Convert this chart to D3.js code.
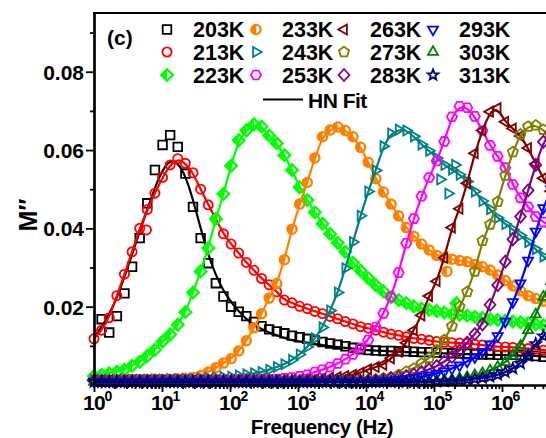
<!DOCTYPE html>
<html>
<head>
<meta charset="utf-8">
<script src="https://cdn.jsdelivr.net/npm/d3@7"></script>
<style>
  body { margin: 0; background: #fff; }
  svg { display: block; }
  text { font-family: "Liberation Sans", Arial, sans-serif; font-weight: bold; fill: #000; }
</style>
</head>
<body>
<svg id="chart" width="546" height="438"></svg>
<script>
// Measurement frequencies (Hz), shared by every temperature
const freqHz = [
  1, 1.294, 1.675, 2.168, 2.805, 3.631, 4.699, 6.081, 7.870, 10.19,
  13.18, 17.06, 22.08, 28.58, 36.98, 47.86, 61.94, 80.17, 103.8, 134.3,
  173.8, 224.9, 291.1, 376.7, 487.5, 631.0, 816.6, 1057, 1368, 1770,
  2291, 2965, 3837, 4966, 6427, 8318, 10770, 13930, 18030, 23330,
  30200, 39080, 50580, 65460, 84720, 109600, 141900, 183700, 237700, 307600,
  398100, 515200, 666800, 863000, 1117000, 1445000, 1871000, 2421000, 3133000, 4055000,
  5248000
];

const temps = ["203K", "213K", "223K", "233K", "243K", "253K",
               "263K", "273K", "283K", "293K", "303K", "313K"];

// M'' measured at each frequency
const m203K = [
  null, 0.0168, 0.0134, 0.0176, 0.0234, 0.0302, 0.0375, 0.0464, 0.0549, 0.0613,
  0.0638, 0.0608, 0.0540, 0.0455, 0.0375, 0.0311, 0.0260, 0.0226, 0.0200, 0.0187,
  0.0176, 0.0161, 0.0150, 0.0142, 0.0137, 0.0132, 0.0126, 0.0122, 0.0118, 0.0114,
  0.0110, 0.0106, 0.0103, 0.0099, 0.0095, 0.0091, 0.0089, 0.0088, 0.0087, 0.0087,
  0.0086, 0.0086, 0.0085, 0.0084, 0.0084, 0.0083, 0.0082, 0.0081, 0.0080, 0.0080,
  0.0079, 0.0078, 0.0078, 0.0077, 0.0077, 0.0077, 0.0076, 0.0075, 0.0074, 0.0072,
  0.0071
];
const m213K = [
  0.0118, 0.0140, 0.0172, 0.0228, 0.0283, 0.0340, 0.0400, 0.0448, 0.0490, 0.0530,
  0.0562, 0.0578, 0.0566, 0.0542, 0.0500, 0.0460, 0.0424, 0.0386, 0.0360, 0.0337,
  0.0313, 0.0293, 0.0272, 0.0256, 0.0238, 0.0217, 0.0210, 0.0201, 0.0195, 0.0188,
  0.0182, 0.0175, 0.0169, 0.0162, 0.0156, 0.0149, 0.0145, 0.0140, 0.0135, 0.0130,
  0.0127, 0.0123, 0.0119, 0.0117, 0.0114, 0.0111, 0.0109, 0.0108, 0.0107, 0.0106,
  0.0104, 0.0102, 0.0100, 0.0098, 0.0097, 0.0096, 0.0095, 0.0093, 0.0091, 0.0089,
  0.0088
];
const m223K = [
  0.0023, 0.0026, 0.0030, 0.0034, 0.0039, 0.0049, 0.0059, 0.0074, 0.0090, 0.0111,
  0.0129, 0.0154, 0.0186, 0.0236, 0.0290, 0.0350, 0.0424, 0.0488, 0.0560, 0.0625,
  0.0650, 0.0666, 0.0660, 0.0637, 0.0617, 0.0587, 0.0549, 0.0505, 0.0472, 0.0441,
  0.0412, 0.0386, 0.0363, 0.0340, 0.0312, 0.0292, 0.0273, 0.0255, 0.0239, 0.0224,
  0.0217, 0.0209, 0.0201, 0.0195, 0.0192, 0.0189, 0.0185, 0.0181, 0.0179, 0.0177,
  0.0174, 0.0171, 0.0168, 0.0166, 0.0164, 0.0162, 0.0160, 0.0158, 0.0155, 0.0153,
  0.0151
];
const m233K = [
  0.0013, 0.0013, 0.0013, 0.0013, 0.0014, 0.0014, 0.0014, 0.0014, 0.0015, 0.0015,
  0.0015, 0.0016, 0.0017, 0.0019, 0.0024, 0.0033, 0.0044, 0.0056, 0.0067, 0.0087,
  0.0113, 0.0146, 0.0182, 0.0222, 0.0259, 0.0320, 0.0398, 0.0462, 0.0517, 0.0580,
  0.0634, 0.0651, 0.0659, 0.0650, 0.0634, 0.0607, 0.0569, 0.0527, 0.0493, 0.0462,
  0.0432, 0.0402, 0.0380, 0.0360, 0.0345, 0.0331, 0.0325, 0.0321, 0.0318, 0.0315,
  0.0308, 0.0302, 0.0294, 0.0281, 0.0267, 0.0253, 0.0240, 0.0228, 0.0221, 0.0214,
  0.0209
];
const m243K = [
  0.0012, 0.0012, 0.0012, 0.0012, 0.0013, 0.0013, 0.0013, 0.0014, 0.0014, 0.0014,
  0.0015, 0.0015, 0.0016, 0.0016, 0.0017, 0.0018, 0.0019, 0.0020, 0.0021, 0.0024,
  0.0027, 0.0030, 0.0033, 0.0039, 0.0046, 0.0053, 0.0064, 0.0078, 0.0097, 0.0119,
  0.0147, 0.0190, 0.0236, 0.0298, 0.0365, 0.0432, 0.0494, 0.0548, 0.0610, 0.0642,
  0.0652, 0.0650, 0.0635, 0.0614, 0.0598, 0.0580, 0.0562, 0.0550, 0.0537, 0.0520,
  0.0494, 0.0470, 0.0449, 0.0427, 0.0411, 0.0397, 0.0382, 0.0365, 0.0347, 0.0328,
  0.0312
];
const m253K = [
  0.0011, 0.0011, 0.0011, 0.0011, 0.0011, 0.0011, 0.0011, 0.0011, 0.0011, 0.0011,
  0.0011, 0.0011, 0.0011, 0.0012, 0.0012, 0.0012, 0.0012, 0.0012, 0.0012, 0.0013,
  0.0013, 0.0013, 0.0014, 0.0014, 0.0015, 0.0017, 0.0019, 0.0022, 0.0026, 0.0033,
  0.0039, 0.0046, 0.0055, 0.0066, 0.0078, 0.0095, 0.0115, 0.0148, 0.0183, 0.0225,
  0.0287, 0.0362, 0.0425, 0.0482, 0.0530, 0.0572, 0.0622, 0.0685, 0.0712, 0.0708,
  0.0686, 0.0650, 0.0612, 0.0584, 0.0555, 0.0512, 0.0478, 0.0455, 0.0430, 0.0416,
  0.0405
];
const m263K = [
  0.0011, 0.0011, 0.0011, 0.0011, 0.0011, 0.0011, 0.0011, 0.0011, 0.0011, 0.0011,
  0.0011, 0.0011, 0.0011, 0.0011, 0.0011, 0.0011, 0.0011, 0.0011, 0.0011, 0.0011,
  0.0011, 0.0011, 0.0011, 0.0012, 0.0012, 0.0012, 0.0012, 0.0012, 0.0013, 0.0014,
  0.0016, 0.0018, 0.0020, 0.0023, 0.0026, 0.0031, 0.0040, 0.0046, 0.0052, 0.0068,
  0.0085, 0.0108, 0.0140, 0.0178, 0.0227, 0.0265, 0.0325, 0.0402, 0.0450, 0.0515,
  0.0592, 0.0650, 0.0698, 0.0707, 0.0672, 0.0655, 0.0636, 0.0605, 0.0565, 0.0528,
  0.0495
];
const m273K = [
  0.0010, 0.0010, 0.0010, 0.0010, 0.0010, 0.0010, 0.0010, 0.0010, 0.0010, 0.0010,
  0.0010, 0.0010, 0.0010, 0.0010, 0.0010, 0.0010, 0.0010, 0.0010, 0.0010, 0.0010,
  0.0010, 0.0010, 0.0010, 0.0010, 0.0010, 0.0010, 0.0010, 0.0010, 0.0010, 0.0010,
  0.0010, 0.0010, 0.0010, 0.0011, 0.0011, 0.0011, 0.0012, 0.0014, 0.0017, 0.0020,
  0.0026, 0.0034, 0.0042, 0.0055, 0.0069, 0.0089, 0.0115, 0.0150, 0.0200, 0.0238,
  0.0290, 0.0368, 0.0410, 0.0468, 0.0535, 0.0595, 0.0640, 0.0660, 0.0663, 0.0652,
  0.0632
];
const m283K = [
  0.0010, 0.0010, 0.0010, 0.0010, 0.0010, 0.0010, 0.0010, 0.0010, 0.0010, 0.0010,
  0.0010, 0.0010, 0.0010, 0.0010, 0.0010, 0.0010, 0.0010, 0.0010, 0.0010, 0.0010,
  0.0010, 0.0010, 0.0010, 0.0010, 0.0010, 0.0010, 0.0010, 0.0010, 0.0010, 0.0010,
  0.0010, 0.0010, 0.0010, 0.0010, 0.0010, 0.0010, 0.0011, 0.0012, 0.0014, 0.0017,
  0.0020, 0.0023, 0.0027, 0.0033, 0.0040, 0.0048, 0.0060, 0.0072, 0.0088, 0.0108,
  0.0130, 0.0155, 0.0205, 0.0255, 0.0315, 0.0372, 0.0430, 0.0497, 0.0562, 0.0621,
  0.0645
];
const m293K = [
  0.0009, 0.0009, 0.0009, 0.0009, 0.0009, 0.0009, 0.0009, 0.0009, 0.0009, 0.0009,
  0.0009, 0.0009, 0.0009, 0.0009, 0.0009, 0.0009, 0.0009, 0.0009, 0.0009, 0.0009,
  0.0009, 0.0009, 0.0009, 0.0009, 0.0009, 0.0009, 0.0009, 0.0009, 0.0009, 0.0009,
  0.0009, 0.0009, 0.0009, 0.0009, 0.0009, 0.0009, 0.0009, 0.0009, 0.0010, 0.0011,
  0.0013, 0.0015, 0.0018, 0.0021, 0.0025, 0.0029, 0.0035, 0.0042, 0.0050, 0.0060,
  0.0071, 0.0085, 0.0104, 0.0125, 0.0162, 0.0212, 0.0260, 0.0318, 0.0392, 0.0452,
  0.0500
];
const m303K = [
  0.0008, 0.0008, 0.0008, 0.0008, 0.0008, 0.0008, 0.0008, 0.0008, 0.0008, 0.0008,
  0.0008, 0.0008, 0.0008, 0.0008, 0.0008, 0.0008, 0.0008, 0.0008, 0.0008, 0.0008,
  0.0008, 0.0008, 0.0008, 0.0008, 0.0008, 0.0008, 0.0008, 0.0008, 0.0008, 0.0008,
  0.0008, 0.0008, 0.0008, 0.0008, 0.0008, 0.0008, 0.0008, 0.0008, 0.0008, 0.0008,
  0.0008, 0.0008, 0.0008, 0.0009, 0.0009, 0.0010, 0.0012, 0.0014, 0.0017, 0.0020,
  0.0025, 0.0030, 0.0037, 0.0046, 0.0058, 0.0075, 0.0100, 0.0140, 0.0180, 0.0225,
  0.0265
];
const m313K = [
  0.0008, 0.0008, 0.0008, 0.0008, 0.0008, 0.0008, 0.0008, 0.0008, 0.0008, 0.0008,
  0.0008, 0.0008, 0.0008, 0.0008, 0.0008, 0.0008, 0.0008, 0.0008, 0.0008, 0.0008,
  0.0008, 0.0008, 0.0008, 0.0008, 0.0008, 0.0008, 0.0008, 0.0008, 0.0008, 0.0008,
  0.0008, 0.0008, 0.0008, 0.0008, 0.0008, 0.0008, 0.0008, 0.0008, 0.0008, 0.0008,
  0.0008, 0.0008, 0.0008, 0.0008, 0.0008, 0.0009, 0.0010, 0.0011, 0.0012, 0.0014,
  0.0016, 0.0018, 0.0021, 0.0026, 0.0033, 0.0042, 0.0055, 0.0075, 0.0105, 0.0125,
  0.0145
];

// HN fit for 203K (sits below its scattered maximum)
const fit203K = [
  0.0123, 0.0148, 0.0180, 0.0222, 0.0276, 0.0333, 0.0393, 0.0448, 0.0505, 0.0550,
  0.0575, 0.0568, 0.0535, 0.0474, 0.0400, 0.0332, 0.0280, 0.0240, 0.0212, 0.0188,
  0.0168, 0.0154, 0.0143, 0.0134, 0.0127, 0.0120, 0.0114, 0.0111, 0.0108, 0.0105,
  0.0102, 0.0099, 0.0097, 0.0095, 0.0093, 0.0091, 0.0089, 0.0088, 0.0087, 0.0086,
  0.0085, 0.0084, 0.0084, 0.0083, 0.0082, 0.0081, 0.0081, 0.0080, 0.0079, 0.0079,
  0.0078, 0.0078, 0.0077, 0.0077, 0.0076, 0.0076, 0.0075, 0.0075, 0.0074, 0.0073,
  0.0072
];

// Scattered readings lying off the fitted curves
const strayPoints = [
  { temp: "213K", f: 5.9,    v: 0.0396 },
  { temp: "223K", f: 214000, v: 0.0209 },
  { temp: "233K", f: 155000, v: 0.0290 },
  { temp: "243K", f: 123000, v: 0.0525 },
  { temp: "243K", f: 162000, v: 0.0489 },
  { temp: "243K", f: 204000, v: 0.0562 }
];

const yMajor = [0.02, 0.04, 0.06, 0.08];
const yMinor = [0.01, 0.03, 0.05, 0.07, 0.09];
const xDecades = [1, 10, 100, 1000, 10000, 100000, 1000000];
const xExponents = ["0", "1", "2", "3", "4", "5", "6"];

// ---------------------------------------------------------------
const valuesByTemp = {
  "203K": m203K, "213K": m213K, "223K": m223K, "233K": m233K,
  "243K": m243K, "253K": m253K, "263K": m263K, "273K": m273K,
  "283K": m283K, "293K": m293K, "303K": m303K, "313K": m313K
};
const fitByTemp = { "203K": fit203K };

const seriesStyle = {
  "203K": { color: "#000000", shape: "square" },
  "213K": { color: "#ff0000", shape: "circle" },
  "223K": { color: "#00ff00", shape: "halfDiamond" },
  "233K": { color: "#ff8000", shape: "halfCircle" },
  "243K": { color: "#008080", shape: "triRight" },
  "253K": { color: "#ff00ff", shape: "hexagon" },
  "263K": { color: "#800000", shape: "triLeft" },
  "273K": { color: "#808000", shape: "pentagon" },
  "283K": { color: "#800080", shape: "diamond" },
  "293K": { color: "#0000ff", shape: "triDown" },
  "303K": { color: "#008000", shape: "triUp" },
  "313K": { color: "#000080", shape: "star" }
};

function polygonPath(n, r, startDeg) {
  const p = [];
  for (let i = 0; i < n; i++) {
    const a = (startDeg + 360 * i / n) * Math.PI / 180;
    p.push([r * Math.cos(a), r * Math.sin(a)]);
  }
  return "M" + p.map(q => q[0].toFixed(2) + "," + q[1].toFixed(2)).join("L") + "Z";
}
function starPath(ro, ri) {
  const p = [];
  for (let i = 0; i < 10; i++) {
    const a = (-90 + 36 * i) * Math.PI / 180, r = i % 2 ? ri : ro;
    p.push([r * Math.cos(a), r * Math.sin(a)]);
  }
  return "M" + p.map(q => q[0].toFixed(2) + "," + q[1].toFixed(2)).join("L") + "Z";
}
function circlePath(r) {
  return `M${r},0A${r},${r} 0 1,1 ${-r},0A${r},${r} 0 1,1 ${r},0Z`;
}

const shapes = {
  square:      { outline: "M-4.3,-4.3H4.3V4.3H-4.3Z" },
  circle:      { outline: circlePath(4.6) },
  halfDiamond: { outline: "M0,-5.8L5.8,0L0,5.8L-5.8,0Z", half: "M0,-5.8L-5.8,0L0,5.8Z", sw: 2.3 },
  halfCircle:  { outline: circlePath(4.6), half: "M0,-4.6A4.6,4.6 0 0,0 0,4.6Z", sw: 2.3 },
  triRight:    { outline: polygonPath(3, 5.8, 0) },
  triLeft:     { outline: polygonPath(3, 5.8, 180) },
  triDown:     { outline: polygonPath(3, 5.8, 90) },
  triUp:       { outline: polygonPath(3, 5.8, -90) },
  hexagon:     { outline: polygonPath(6, 5.1, 0) },
  pentagon:    { outline: polygonPath(5, 5.3, -90) },
  diamond:     { outline: "M0,-6L5.4,0L0,6L-5.4,0Z" },
  star:        { outline: starPath(5.6, 2.4) }
};

const series = temps.map(t => ({
  temp: t,
  values: valuesByTemp[t],
  fit: fitByTemp[t] || valuesByTemp[t],
  ...seriesStyle[t]
}));

// ---------------------------------------------------------------
const svg = d3.select("#chart");
svg.append("rect").attr("width", 546).attr("height", 438).attr("fill", "#fff");

const x = d3.scaleLog().domain([1, 1e7]).range([94, 570]);
const y = d3.scaleLinear().domain([0, 0.095]).range([385, 13]);

function drawMarker(g, s, cx, cy) {
  const sh = shapes[s.shape];
  const tr = `translate(${cx.toFixed(2)},${cy.toFixed(2)})`;
  if (sh.half) g.append("path").attr("d", sh.half).attr("transform", tr).attr("fill", s.color);
  g.append("path").attr("d", sh.outline).attr("transform", tr)
    .attr("fill", "none").attr("stroke", s.color).attr("stroke-width", sh.sw || 1.8);
}

const line = d3.line()
  .x(d => x(d.f))
  .y(d => y(d.v))
  .curve(d3.curveBasis);

const plot = svg.append("g");
series.forEach(s => {
  const gs = plot.append("g").attr("class", "series-" + s.temp);
  freqHz.forEach((f, i) => {
    const v = s.values[i];
    if (v != null) drawMarker(gs, s, x(f), y(v));
  });
  strayPoints.filter(p => p.temp === s.temp)
    .forEach(p => drawMarker(gs, s, x(p.f), y(p.v)));
  const fitPts = freqHz.map((f, i) => ({ f, v: s.fit[i] })).filter(d => d.v != null);
  gs.append("path").attr("d", line(fitPts))
    .attr("fill", "none").attr("stroke", s.color).attr("stroke-width", 2.2);
});

// Axes
const axisG = svg.append("g");
const yAxisMajor = d3.axisLeft(y).tickValues(yMajor).tickSize(8).tickSizeOuter(0)
  .tickPadding(2).tickFormat(d3.format(".2f"));
const yAxisMinor = d3.axisLeft(y).tickValues(yMinor).tickSize(4).tickSizeOuter(0).tickFormat("");
axisG.append("g").attr("transform", "translate(94,0)").call(yAxisMinor);
const gy = axisG.append("g").attr("transform", "translate(94,0)").call(yAxisMajor);
gy.selectAll("text").style("font-size", "21px").attr("dy", "0.36em");

const xMinor = [];
xDecades.forEach(d => { for (let k = 2; k <= 9; k++) xMinor.push(d * k); });
const xAxisMajor = d3.axisBottom(x).tickValues(xDecades.concat([1e7])).tickSize(7).tickSizeOuter(0).tickFormat("");
const xAxisMinor = d3.axisBottom(x).tickValues(xMinor).tickSize(4).tickSizeOuter(0).tickFormat("");
axisG.append("g").attr("transform", "translate(0,385)").call(xAxisMinor);
axisG.append("g").attr("transform", "translate(0,385)").call(xAxisMajor);

axisG.selectAll(".domain").attr("stroke-width", 2.2);
axisG.selectAll(".tick line").attr("stroke-width", 1.8);

// top frame line
svg.append("line").attr("x1", 93).attr("x2", 546).attr("y1", 13).attr("y2", 13)
  .attr("stroke", "#000").attr("stroke-width", 2.2);

// decade labels 10^n
xDecades.forEach((d, i) => {
  const tx = x(d);
  svg.append("text").attr("x", tx).attr("y", 410).attr("text-anchor", "middle")
    .style("font-size", "21px").style("letter-spacing", "-0.8px").text("10");
  svg.append("text").attr("x", tx + 10.5).attr("y", 401)
    .style("font-size", "14px").text(xExponents[i]);
});

// axis titles
svg.append("text").attr("x", 322).attr("y", 434).attr("text-anchor", "middle")
  .style("font-size", "20.5px").style("letter-spacing", "-0.4px").text("Frequency (Hz)");
svg.append("text").attr("transform", "translate(37,215) rotate(-90)")
  .attr("text-anchor", "middle").style("font-size", "25px").text("M\u2033");

// panel tag
svg.append("text").attr("x", 107).attr("y", 45).style("font-size", "21px").text("(c)");

// legend
const legendCols = [167, 256, 344, 433];
const legendRows = [29.5, 52, 75];
temps.forEach((t, i) => {
  const col = Math.floor(i / 3), row = i % 3;
  const s = series[i];
  const lx = legendCols[col], ly = legendRows[row];
  drawMarker(svg.append("g"), s, lx, ly);
  svg.append("text").attr("x", lx + 26).attr("y", ly + 7.5)
    .style("font-size", "21.5px").text(t);
});
svg.append("line").attr("x1", 263).attr("x2", 303).attr("y1", 99.5).attr("y2", 99.5)
  .attr("stroke", "#000").attr("stroke-width", 2.2);
svg.append("text").attr("x", 308).attr("y", 107.5).style("font-size", "21px")
  .style("letter-spacing", "-0.5px").text("HN Fit");
</script>
</body>
</html>
